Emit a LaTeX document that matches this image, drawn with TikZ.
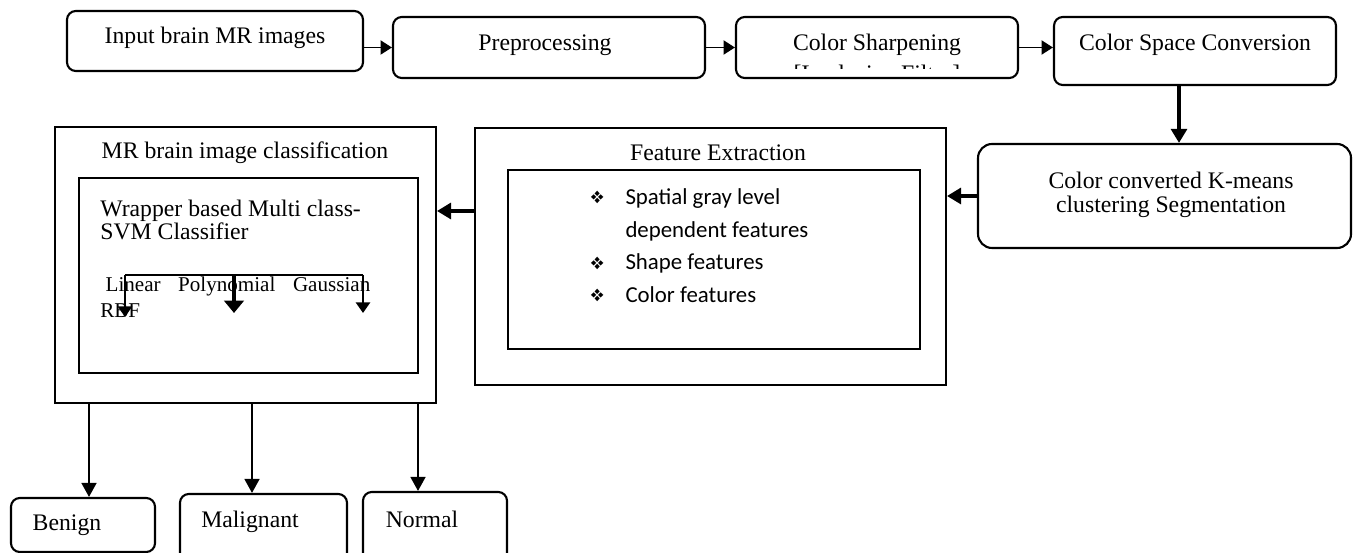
\documentclass[tikz,border=0pt]{standalone}
\usepackage{fontspec}
\setmainfont{Liberation Serif}
\newfontfamily\calibri{Carlito}
\usepackage{pifont}
\usetikzlibrary{arrows.meta}
\newcommand{\txtsize}{\fontsize{13.5}{13.6}\selectfont}
\newcommand{\featbullet}{\makebox[20pt][l]{\fontsize{10}{10}\selectfont\raisebox{0.5pt}{\ding{118}}}}
\tikzset{
	boxsize/.style 2 args={minimum width=#1*0.02cm, minimum height=#2*0.02cm},
	flowbox/.style={draw, line width=1.2pt, rounded corners=5pt, inner sep=0pt},
	plainbox/.style={draw, line width=1.1pt, inner sep=0pt},
	innerbox/.style={draw, line width=0.7pt, inner sep=0pt},
	lbl/.style={inner sep=0pt, font=\txtsize},
	thin arrow/.style={line width=1.1pt, -{Triangle[length=6.5pt,width=8pt]}},
	fat arrow/.style={line width=2pt, -{Triangle[length=8pt,width=9pt]}},
	down arrow/.style={line width=1.1pt, -{Triangle[length=8pt,width=8.5pt]}}
}

\begin{document}
\begin{tikzpicture}[x=0.02cm, y=-0.02cm]
	\useasboundingbox (0,0) rectangle (1354,553);
	\clip (0,0) rectangle (1354,553);

	\node[flowbox, boxsize={296}{60}] (input) at (215,41) {};
	\node[flowbox, boxsize={312}{61}] (prep) at (549,47.5) {};
	\node[flowbox, boxsize={282}{61}] (sharp) at (877,47.5) {};
	\node[flowbox, boxsize={282}{68}] (csc) at (1195,51) {};
	\node[flowbox, rounded corners=8pt, boxsize={373}{104}] (cc) at (1164.5,196) {};

	\node[lbl] (inputtxt) at (215,38) {Input brain MR images};
	\node[lbl] (preptxt) at (545,45) {Preprocessing};
	\node[lbl] (sharptxt) at (877,45) {Color Sharpening};
	\begin{scope}
		\clip (736,17) rectangle (1018,69);
		\node[lbl] (filtertxt) at (877,76) {[Laplacian Filter]};
	\end{scope}
	\node[lbl] (csctxt) at (1195,45) {Color Space Conversion};
	\node[lbl, align=center] (cctxt) at (1171,195) {Color converted K-means\\clustering Segmentation};

	\node[plainbox, boxsize={471}{257}] (feout) at (710.5,256.5) {};
	\node[innerbox, boxsize={412}{179}] (fein) at (714,259.5) {};
	\node[lbl] (fetxt) at (718,153) {Feature Extraction};
	\node[inner sep=0pt, anchor=west, font=\calibri\fontsize{13}{18.7}\selectfont] (felist) at (590,247) {%
		\begin{tabular}{@{}l@{}l@{}}
			\featbullet & Spatial gray level\\
			& dependent features\\
			\featbullet & Shape features\\
			\featbullet & Color features
		\end{tabular}};

	\node[plainbox, boxsize={381}{276}] (mrout) at (245.5,265) {};
	\node[innerbox, boxsize={339}{195}] (mrin) at (248.5,275.5) {};
	\node[lbl] (mrtxt) at (245,153) {MR brain image classification};
	\node[lbl, anchor=west, align=left] (svmtxt) at (100,220) {Wrapper based Multi class-\\SVM Classifier};
	\node[inner sep=0pt, anchor=west, align=left, font=\fontsize{12}{12}\selectfont] (kerneltxt) at (100,297) {\hspace{3pt}Linear\hspace{10pt}Polynomial\hspace{10pt}Gaussian\\[3pt]RBF};

	\node[flowbox, boxsize={144}{54}] (benign) at (83,525) {};
	\node[flowbox, boxsize={167}{72}] (malig) at (263.5,530) {};
	\node[flowbox, boxsize={144}{74}] (normal) at (435,529) {};
	\node[lbl] (benigntxt) at (67,525) {Benign};
	\node[lbl] (maligtxt) at (250,522) {Malignant};
	\node[lbl] (normaltxt) at (422,519) {Normal};

	\coordinate (cscout) at (1179,0);
	\coordinate (fearrow) at (0,211);
	\coordinate (tobenign) at (89,0);
	\coordinate (tomalig) at (252,0);
	\coordinate (tonormal) at (418,0);
	\coordinate (kl) at (125,275);
	\coordinate (km) at (234,275);
	\coordinate (kr) at (363,275);
	\coordinate (klend) at (125,317);
	\coordinate (kmend) at (234,313);
	\coordinate (krend) at (363,313);

	\draw[thin arrow] (prep.west -| input.east) -- (prep.west);
	\draw[thin arrow] (prep.east) -- (sharp.west);
	\draw[thin arrow] (sharp.east) -- (sharp.east -| csc.west);
	\draw[fat arrow] (csc.south -| cscout) -- (cc.north -| cscout);
	\draw[fat arrow] (cc.west) -- (cc.west -| feout.east);
	\draw[fat arrow] (feout.west |- fearrow) -- (mrout.east |- fearrow);

	\draw[line width=1pt] (kl) -- (kr);
	\draw[line width=1.2pt, -{Triangle[length=6pt,width=8pt]}] (kl) -- (klend);
	\draw[line width=2.2pt, -{Triangle[length=7pt,width=11pt]}] (km) -- (kmend);
	\draw[line width=1.2pt, -{Triangle[length=6pt,width=8pt]}] (kr) -- (krend);

	\draw[down arrow] (mrout.south -| tobenign) -- (benign.north -| tobenign);
	\draw[down arrow] (mrout.south -| tomalig) -- (malig.north -| tomalig);
	\draw[down arrow] (mrout.south -| tonormal) -- (normal.north -| tonormal);
\end{tikzpicture}
\end{document}
